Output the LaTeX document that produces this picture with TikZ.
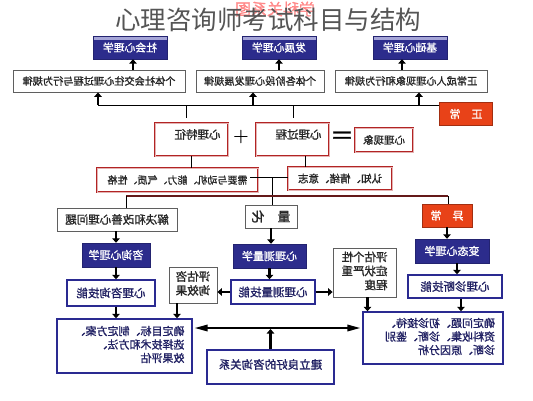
\documentclass[tikz,border=0pt]{standalone}
\usepackage{fontspec}
\usepackage{graphicx}
\usepackage{tikz}
\usetikzlibrary{arrows.meta, positioning, shadows}
\newfontfamily\cjk{Noto Sans CJK SC}
\newfontfamily\cjkb[FakeBold=1.2]{Noto Sans CJK SC}
\definecolor{navyblue}{RGB}{44,44,140}
\definecolor{lavender}{RGB}{165,165,215}
\definecolor{borderblue}{RGB}{42,42,145}
\definecolor{framered}{RGB}{178,36,36}
\definecolor{flagred}{RGB}{232,66,24}
\definecolor{titlegray}{RGB}{85,85,85}
\definecolor{bordergray}{RGB}{95,95,95}
\definecolor{busred}{RGB}{100,25,25}
\newcommand{\cjkat}[2]{\cjkb\fontsize{#1}{#2}\selectfont}
\newcommand{\mirr}[1]{\reflectbox{#1}}
\newcommand{\mlines}[1]{\reflectbox{\begin{tabular}{@{}l@{}}#1\end{tabular}}}
\tikzset{
    psyblock/.style={rectangle, fill=navyblue, draw=navyblue!80!black, text=white, font=\cjkat{10.8}{13}, inner sep=1pt},
    topband/.style={path picture={\fill[lavender] (path picture bounding box.north west) rectangle ([yshift=-4pt]path picture bounding box.north east);}},
    skillblock/.style={rectangle, fill=white, draw=borderblue, line width=1.4pt, text=navyblue!70!black, font=\cjkat{11.5}{14}, inner sep=2pt, drop shadow={opacity=0.15, shadow xshift=1pt, shadow yshift=-1pt}},
    rulebox/.style={rectangle, fill=white, draw=bordergray, line width=0.8pt, text=black!85, font=\cjkat{10.2}{13}, inner sep=2pt, drop shadow={opacity=0.15, shadow xshift=1pt, shadow yshift=-1pt}},
    redframe/.style={rectangle, fill=white, draw=framered, line width=0.9pt, double=framered!35, double distance=0.9pt, text=black!85, font=\cjkat{10.5}{13}, inner sep=2pt},
    flagbox/.style={rectangle, fill=flagred, draw=flagred!70!black, line width=0.8pt, text=white, font=\cjkat{11}{13}, inner sep=2pt},
    psyarrow/.style={-{Triangle[length=4.5pt,width=7.5pt]}, line width=2.4pt},
    psydarrow/.style={{Triangle[length=13pt,width=6.5pt]}-{Triangle[length=13pt,width=6.5pt]}, line width=1.8pt},
    psyline/.style={line width=0.9pt}
}

\begin{document}
\begin{tikzpicture}[x=1pt, y=-1pt]
\useasboundingbox[fill=white] (0,0) rectangle (533,400);

% heading
\node[text=red!60, opacity=0.7, font=\cjkat{16}{16}] (banner) at (275,9) {\mirr{学科关系图}};
\node[text=titlegray, font=\cjk\fontsize{25.5}{26}\selectfont] (title) at (268,20) {心理咨询师考试科目与结构};

% subjects for normal psychology
\node[psyblock, topband, minimum width=74pt, minimum height=23pt] (soc) at (130,47.5) {\mirr{社会心理学}};
\node[psyblock, topband, minimum width=74pt, minimum height=23pt] (dev) at (279,47.5) {\mirr{发展心理学}};
\node[psyblock, topband, minimum width=74pt, minimum height=23pt] (basic) at (410,47.5) {\mirr{基础心理学}};

\node[rulebox, minimum width=172pt, minimum height=22pt] (socrule) at (99,81) {\mirr{个体社会交往心理过程与行为规律}};
\node[rulebox, minimum width=128pt, minimum height=22pt] (devrule) at (260,81) {\mirr{个体各阶段心理发展规律}};
\node[rulebox, minimum width=152pt, minimum height=22pt] (basicrule) at (411,81) {\mirr{正常成人心理现象和行为规律}};

\node[flagbox, minimum width=53pt, minimum height=23pt] (normal) at (466,114) {\mirr{正\quad 常}};

\coordinate (busA) at (98,105);
\coordinate (busB) at (253,105);
\coordinate (busC) at (419,105);
\coordinate (tickA) at (186,105);
\coordinate (tickB) at (293,105);

% phenomena
\node[redframe, minimum width=73pt, minimum height=33pt, text width=58pt, align=right, text depth=11pt, font=\cjkat{11.5}{13}] (feat) at (191.5,139.5) {\mirr{心理特征}};
\node[font=\fontsize{18}{18}\selectfont\bfseries] (plus) at (241,137) {+};
\node[redframe, minimum width=73pt, minimum height=33pt, text width=58pt, align=right, text depth=11pt, font=\cjkat{11.5}{13}] (proc) at (292.5,139.5) {\mirr{心理过程}};
\node[font=\cjkat{24}{24}] (equal) at (342,138) {＝};
\node[redframe, minimum width=58pt, minimum height=24pt] (phen) at (384,140) {\mirr{心理现象}};

\node[redframe, minimum width=161pt, minimum height=24pt, font=\cjkat{10}{12}] (need) at (177.5,180) {\mirr{需要与动机、能力、气质、性格}};
\node[redframe, minimum width=104pt, minimum height=23pt] (cog) at (340,178.5) {\mirr{认知、情绪、意志}};

\coordinate (jn) at (272,177);
\coordinate (busL) at (126,196);
\coordinate (busR) at (448,196);

% applied branches
\node[rulebox, minimum width=120pt, minimum height=23pt, font=\cjkat{11.5}{13}] (solve) at (117,219.5) {\mirr{解决和改善心理问题}};
\node[rulebox, minimum width=52pt, minimum height=23pt, font=\cjkat{13}{15}] (quant) at (271,216.5) {\mirr{量\quad 化}};
\node[flagbox, minimum width=50pt, minimum height=23pt] (abnormal) at (447,215.5) {\mirr{异\quad 常}};

\node[psyblock, minimum width=68pt, minimum height=24pt, font=\cjkat{11}{13}] (counsel) at (116,255) {\mirr{咨询心理学}};
\node[psyblock, minimum width=73pt, minimum height=24pt, font=\cjkat{11}{13}] (measure) at (269.5,256) {\mirr{心理测量学}};
\node[psyblock, minimum width=74pt, minimum height=24pt, font=\cjkat{11}{13}] (abpsy) at (452,251) {\mirr{变态心理学}};

\node[skillblock, minimum width=88pt, minimum height=26pt] (cskill) at (111,293) {\mirr{心理咨询技能}};
\node[skillblock, minimum width=84pt, minimum height=24pt] (mskill) at (273,292) {\mirr{心理测量技能}};
\node[skillblock, minimum width=94pt, minimum height=23pt] (dskill) at (455,286.5) {\mirr{心理诊断技能}};
\node[rulebox, minimum width=48pt, minimum height=36pt, font=\cjkat{11.5}{14}] (evalc) at (193,285) {\mlines{评估咨\\询效果}};
\node[rulebox, minimum width=63pt, minimum height=49pt, font=\cjkat{11.5}{14}] (evals) at (364.5,272.5) {\mlines{评估个性\\症状严重\\程度}};

\node[skillblock, minimum width=135pt, minimum height=54pt, text width=120pt, align=right, font=\cjkat{11}{13.5}] (plan) at (124.5,346) {\mlines{确定目标、制定方案、\\选择技术和方法、\\效果评估}};
\node[skillblock, minimum width=140pt, minimum height=52pt, text width=124pt, align=right, font=\cjkat{11}{13.5}] (diag) at (433,338) {\mlines{确定问题、初诊接待、\\资料收集、诊断、鉴别\\诊断、原因分析}};
\node[skillblock, minimum width=127pt, minimum height=34pt, text depth=6pt] (rapport) at (270.5,367) {\mirr{建立良好的咨询关系}};

\coordinate (mid) at (270,328);

% connectors
\draw[psyline] (busA) -- (busA -| normal.west);
\draw[psyarrow] (busA) -- (busA |- socrule.south);
\draw[psyarrow] (busB) -- (busB |- devrule.south);
\draw[psyarrow] (busC) -- (busC |- basicrule.south);
\draw[psyarrow] ([xshift=3pt]soc.south |- socrule.north) -- ([xshift=3pt]soc.south);
\draw[psyarrow] (dev.south |- devrule.north) -- (dev.south);
\draw[psyarrow] ([xshift=-8pt]basic.south |- basicrule.north) -- ([xshift=-8pt]basic.south);
\draw[psyline, shorten >=5pt] (tickA) -- (tickA |- feat.north);
\draw[psyline, shorten >=5pt] (tickB) -- (tickB |- proc.north);
\draw[psyline] (feat.south) -- (feat.south |- need.north);
\draw[psyline] ([xshift=13pt]proc.south) -- ([xshift=13pt]proc.south |- cog.north);
\draw[psyline] ([xshift=-8pt]need.east |- jn) -- (cog.west |- jn);
\draw[psyline] (jn) -- (jn |- quant.north);
\draw[psyline, draw=busred, line width=1.3pt] (busL) -- (busR);
\draw[psyline] (busL) -- (busL |- solve.north);
\draw[psyline] (busR) -- (busR |- abnormal.north);

\draw[psyarrow] (counsel.north |- solve.south) -- (counsel.north);
\draw[psyarrow] (quant.south) -- (quant.south |- measure.north);
\draw[psyarrow] (abnormal.south) -- (abnormal.south |- abpsy.north);
\draw[psyarrow] (counsel.south) -- (counsel.south |- cskill.north);
\draw[psyarrow] (measure.south) -- (measure.south |- mskill.north);
\draw[psyarrow] ([xshift=5pt]abpsy.south) -- ([xshift=5pt]abpsy.south |- dskill.north);
\draw[psyarrow] (mskill.west) -- (evalc.east |- mskill.west);
\draw[psyarrow] (mskill.east) -- (evals.west |- mskill.east);
\draw[psyarrow] ([xshift=5pt]cskill.south) -- ([xshift=5pt]cskill.south |- plan.north);
\draw[psyarrow] ([xshift=-16pt]evalc.south) -- ([xshift=-16pt]evalc.south |- plan.north);
\draw[psyarrow] ([xshift=3pt]evals.south) -- ([xshift=3pt]evals.south |- diag.north);
\draw[psyarrow] ([xshift=6pt]dskill.south) -- ([xshift=6pt]dskill.south |- diag.north);
\draw[psydarrow, shorten <=2pt, shorten >=2pt] (plan.east |- mid) -- (diag.west |- mid);
\draw[psyarrow, shorten >=1pt] (rapport.north) -- (rapport.north |- mid);

\end{tikzpicture}
\end{document}
